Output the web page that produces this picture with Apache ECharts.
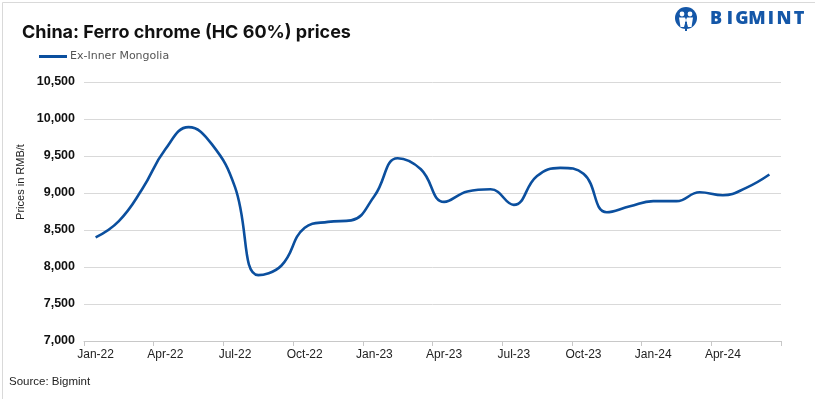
<!DOCTYPE html>
<html>
<head>
<meta charset="utf-8">
<script src="https://cdn.jsdelivr.net/npm/echarts@6/dist/echarts.min.js"></script>
<style>
  html, body { margin: 0; padding: 0; background: #fff; }
  #chart { width: 815px; height: 399px; }
</style>
</head>
<body>
<div id="chart"></div>
<script>
// Monthly prices, Jan-22 .. Jun-24 (RMB/t)
const months = [
    'Jan-22', 'Feb-22', 'Mar-22', 'Apr-22', 'May-22', 'Jun-22', 'Jul-22', 'Aug-22', 'Sep-22', 'Oct-22', 'Nov-22', 'Dec-22',
    'Jan-23', 'Feb-23', 'Mar-23', 'Apr-23', 'May-23', 'Jun-23', 'Jul-23', 'Aug-23', 'Sep-23', 'Oct-23', 'Nov-23', 'Dec-23',
    'Jan-24', 'Feb-24', 'Mar-24', 'Apr-24', 'May-24', 'Jun-24'
];
const innerMongolia = [
    8400, 8620, 9050, 9590, 9890, 9660, 9080, 7890, 8020, 8530, 8610, 8630,
    8960, 9470, 9320, 8880, 9020, 9050, 8840, 9230, 9340, 9260, 8740, 8820,
    8890, 8890, 9010, 8970, 9070, 9250
];
const seriesName = 'Ex-Inner Mongolia';
const yMin = 7000, yMax = 10500, yStep = 500;

const blue = '#0b4f9e';
const narrow = "'Liberation Sans Narrow', 'Liberation Sans', Arial, sans-serif";

const chart = echarts.init(document.getElementById('chart'), null, { renderer: 'canvas' });

// logo letters, spaced out like the original wordmark
const logoLetters = 'BIGMINT'.split('');
const logoCells = [716, 730, 742, 757, 771, 784, 799];
const logoGraphics = logoLetters.map((ch, i) => ({
    type: 'text',
    x: logoCells[i],
    y: 19,
    style: { text: ch, fill: '#1457a8', font: "900 18px 'Open Sans', sans-serif", align: 'center', verticalAlign: 'middle' }
}));

const option = {
    animation: false,
    backgroundColor: '#fff',
    title: {
        text: 'China: Ferro chrome (HC 60%) prices',
        left: 17,
        top: 19,
        textStyle: { fontFamily: 'Inter, sans-serif', fontWeight: 'bold', fontSize: 18, color: '#111' }
    },
    legend: {
        left: 34,
        top: 46,
        itemWidth: 28,
        itemHeight: 3,
        itemGap: 4,
        icon: 'rect',
        data: [seriesName],
        textStyle: { fontFamily: "'DejaVu Sans', sans-serif", fontSize: 11, color: '#555', padding: [0, 0, 0, -2] }
    },
    grid: { left: 84, right: 34, top: 82, bottom: 58, containLabel: false },
    xAxis: {
        type: 'category',
        data: months,
        boundaryGap: true,
        axisLine: { lineStyle: { color: '#c8c8c8', width: 1 } },
        axisTick: { show: true, interval: 2, length: 5, lineStyle: { color: '#c8c8c8' } },
        axisLabel: { interval: 2, margin: 8, fontFamily: narrow, fontSize: 12, color: '#222' },
        splitLine: { show: false }
    },
    yAxis: {
        type: 'value',
        min: yMin,
        max: yMax,
        interval: yStep,
        axisLine: { show: false },
        axisTick: { show: false },
        axisLabel: {
            margin: 9,
            fontFamily: narrow,
            fontWeight: 'bold',
            fontSize: 12.5,
            color: '#111',
            formatter: v => v.toLocaleString('en-US')
        },
        splitLine: { lineStyle: { color: '#d9d9d9', width: 1 } }
    },
    series: [{
        name: seriesName,
        type: 'line',
        data: innerMongolia,
        smooth: 0.45,
        showSymbol: false,
        symbol: 'none',
        lineStyle: { color: blue, width: 2.6 },
        itemStyle: { color: blue }
    }],
    graphic: [
        {
            type: 'rect',
            left: 0, top: 0,
            shape: { x: 0.5, y: 0.5, width: 813, height: 397 },
            style: { fill: 'none', stroke: '#d9d9d9', lineWidth: 1 },
            silent: true
        },
        {
            type: 'text',
            x: 21, y: 182,
            rotation: Math.PI / 2,
            style: { text: 'Prices in RMB/t', fill: '#222', font: "11px " + narrow, align: 'center', verticalAlign: 'middle' }
        },
        {
            type: 'text',
            left: 9, top: 376,
            style: { text: 'Source: Bigmint', fill: '#222', font: "11.5px " + narrow }
        },
        {
            type: 'group',
            left: 675, top: 7,
            children: [
                { type: 'circle', shape: { cx: 11, cy: 11, r: 11 }, style: { fill: '#1457a8' } },
                { type: 'circle', shape: { cx: 7, cy: 7, r: 2.4 }, style: { fill: '#fff' } },
                { type: 'circle', shape: { cx: 15, cy: 7, r: 2.4 }, style: { fill: '#fff' } },
                { type: 'polygon', shape: { points: [[4, 10.5], [10, 10.5], [11, 13], [9, 20], [5.5, 20]] }, style: { fill: '#fff' } },
                { type: 'polygon', shape: { points: [[12, 10.5], [18, 10.5], [16.5, 20], [13, 20], [11, 13]] }, style: { fill: '#fff' } },
                { type: 'rect', shape: { x: 10, y: 15, width: 2, height: 9 }, style: { fill: '#1457a8' } }
            ]
        }
    ].concat(logoGraphics)
};

chart.setOption(option);
</script>
</body>
</html>
